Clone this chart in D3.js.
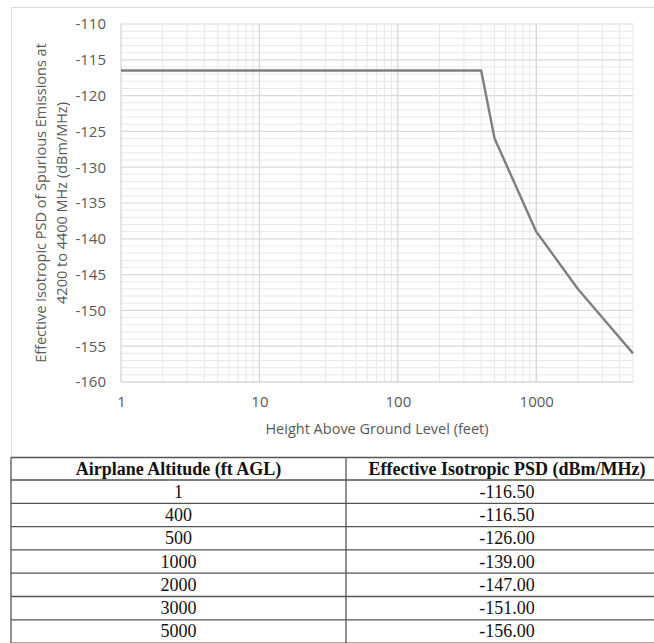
<!DOCTYPE html>
<html>
<head>
<meta charset="utf-8">
<script src="https://cdn.jsdelivr.net/npm/d3@7"></script>
<style>
  body { margin: 0; background: #fff; }
  .tick text { font-family: "Open Sans", sans-serif; fill: #595959; }
</style>
</head>
<body>
<div id="chart"></div>
<script>
// data
const altitudes = [1, 400, 500, 1000, 2000, 3000, 5000];
const psdValues = [-116.5, -116.5, -126, -139, -147, -151, -156];
const yTicks = [-160, -155, -150, -145, -140, -135, -130, -125, -120, -115, -110];
const xTicks = [1, 10, 100, 1000];
const tableHeaders = ["Airplane Altitude (ft AGL)", "Effective Isotropic PSD (dBm/MHz)"];

const W = 654, H = 643;
const margin = {top: 24, left: 121, right: 21, bottom: 261};
const plotW = W - margin.left - margin.right;
const plotH = H - margin.top - margin.bottom;

const svg = d3.select("#chart").append("svg")
  .attr("width", W)
  .attr("height", H);

// chart frame
svg.append("path")
  .attr("d", "M11.5,458 V7.5 H660")
  .attr("fill", "none")
  .attr("stroke", "#d9d9d9");

const g = svg.append("g")
  .attr("transform", "translate(" + margin.left + "," + margin.top + ")");

const x = d3.scaleLog().domain([1, 5000]).range([0, plotW]);
const y = d3.scaleLinear().domain([-160, -110]).range([plotH, 0]);

// minor grid
const minorX = x.ticks().filter(d => xTicks.indexOf(d) < 0);
const minorY = d3.range(-160, -109, 1).filter(d => d % 5 !== 0);

g.append("g").selectAll("line.mx")
  .data(minorX).join("line")
  .attr("x1", d => x(d)).attr("x2", d => x(d))
  .attr("y1", 0).attr("y2", plotH)
  .attr("stroke", "#e8e8e8").attr("stroke-width", 1);

g.append("g").selectAll("line.my")
  .data(minorY).join("line")
  .attr("x1", 0).attr("x2", plotW)
  .attr("y1", d => y(d)).attr("y2", d => y(d))
  .attr("stroke", "#e8e8e8").attr("stroke-width", 1);

// major grid
g.append("g").selectAll("line.gx")
  .data(xTicks).join("line")
  .attr("x1", d => x(d)).attr("x2", d => x(d))
  .attr("y1", 0).attr("y2", plotH)
  .attr("stroke", "#d4d4d4").attr("stroke-width", 1.2);

g.append("g").selectAll("line.gy")
  .data(yTicks).join("line")
  .attr("x1", 0).attr("x2", plotW)
  .attr("y1", d => y(d)).attr("y2", d => y(d))
  .attr("stroke", d => d === -160 ? "#c4c4c4" : "#d9d9d9")
  .attr("stroke-width", 1.2);

// axes (labels only)
const xAxis = d3.axisBottom(x).tickValues(xTicks).tickFormat(d => String(d)).tickSize(0).tickPadding(14);
const yAxis = d3.axisLeft(y).tickValues(yTicks).tickFormat(d => String(d)).tickSize(0).tickPadding(15);

g.append("g")
  .attr("transform", "translate(0," + plotH + ")")
  .call(xAxis)
  .call(a => a.select(".domain").remove())
  .selectAll("text").attr("font-size", 15);

g.append("g")
  .call(yAxis)
  .call(a => a.select(".domain").remove())
  .selectAll("text").attr("font-size", 15);

// line
const pts = altitudes.map((a, i) => ({a: a, v: psdValues[i]}));
g.append("path")
  .datum(pts)
  .attr("fill", "none")
  .attr("stroke", "#7f7f7f")
  .attr("stroke-width", 2.4)
  .attr("stroke-linejoin", "round")
  .attr("d", d3.line().x(d => x(d.a)).y(d => y(d.v)));

// axis titles
svg.append("text")
  .attr("x", margin.left + plotW / 2)
  .attr("y", 434)
  .attr("text-anchor", "middle")
  .attr("font-family", "Open Sans, sans-serif")
  .attr("font-size", 14.5)
  .attr("fill", "#595959")
  .text("Height Above Ground Level (feet)");

const yTitle = svg.append("text")
  .attr("transform", "translate(0," + (margin.top + plotH / 2) + ") rotate(-90)")
  .attr("text-anchor", "middle")
  .attr("font-family", "Open Sans, sans-serif")
  .attr("font-size", 14.5)
  .attr("fill", "#595959");
yTitle.append("tspan").attr("x", 0).attr("y", 46).text("Effective Isotropic PSD of Spurious Emissions at");
yTitle.append("tspan").attr("x", 0).attr("y", 67).text("4200 to 4400 MHz (dBm/MHz)");

// table
const tbl = {left: 11, mid: 346, right: 668, top: 457.5, headH: 22.5, rowH: 23.3};
const tg = svg.append("g");
const nRows = altitudes.length;
const rowY = i => tbl.top + tbl.headH + i * tbl.rowH;

tg.selectAll("line.hr")
  .data(d3.range(nRows + 2)).join("line")
  .attr("x1", tbl.left).attr("x2", tbl.right)
  .attr("y1", i => i === 0 ? tbl.top : rowY(i - 1))
  .attr("y2", i => i === 0 ? tbl.top : rowY(i - 1))
  .attr("stroke", "#555").attr("stroke-width", 1.3);

tg.selectAll("line.vr")
  .data([tbl.left, tbl.mid]).join("line")
  .attr("x1", d => d).attr("x2", d => d)
  .attr("y1", tbl.top).attr("y2", H + 2)
  .attr("stroke", "#555").attr("stroke-width", 1.3);

const c1 = (tbl.left + tbl.mid) / 2, c2 = (tbl.mid + tbl.right) / 2;

tg.selectAll("text.th")
  .data(tableHeaders).join("text")
  .attr("x", (d, i) => i === 0 ? c1 : c2)
  .attr("y", tbl.top + tbl.headH / 2 + 6)
  .attr("text-anchor", "middle")
  .attr("font-family", "Liberation Serif, serif")
  .attr("font-weight", "bold")
  .attr("font-size", 18)
  .attr("fill", "#111")
  .text(d => d);

tg.selectAll("text.ca")
  .data(altitudes).join("text")
  .attr("x", c1)
  .attr("y", (d, i) => rowY(i) + tbl.rowH / 2 + 6)
  .attr("text-anchor", "middle")
  .attr("font-family", "Liberation Serif, serif")
  .attr("font-size", 18)
  .attr("fill", "#111")
  .text(d => d);

tg.selectAll("text.cv")
  .data(psdValues).join("text")
  .attr("x", c2)
  .attr("y", (d, i) => rowY(i) + tbl.rowH / 2 + 6)
  .attr("text-anchor", "middle")
  .attr("font-family", "Liberation Serif, serif")
  .attr("font-size", 18)
  .attr("fill", "#111")
  .text(d => d.toFixed(2));
</script>
</body>
</html>
